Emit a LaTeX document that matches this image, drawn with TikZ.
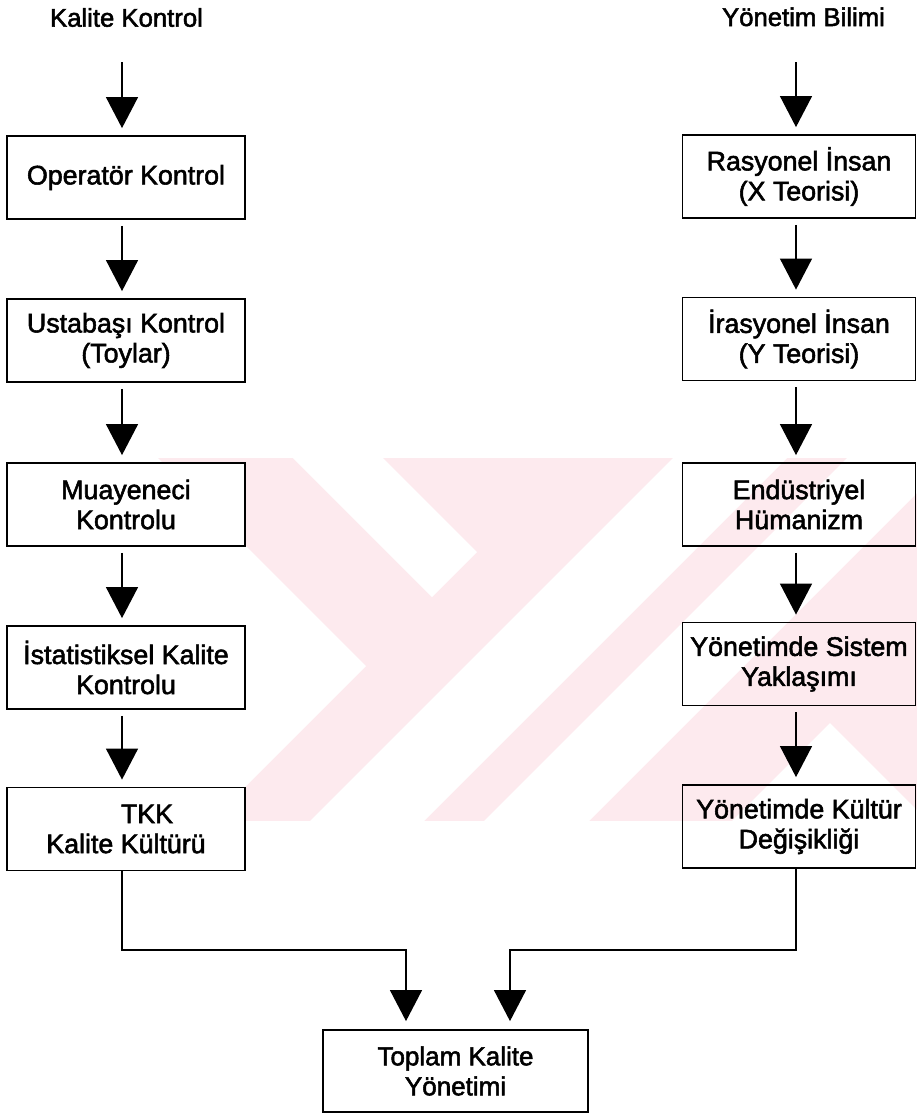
\documentclass[tikz,border=0pt]{standalone}
\usepackage{fontspec}
\setmainfont{Liberation Sans}[FakeBold=2.0]
\usetikzlibrary{arrows.meta}
\definecolor{wmpink}{RGB}{253,234,238}

\begin{document}
\begin{tikzpicture}[x=1pt,y=-1pt,
  box/.style={draw, line width=1.8pt, minimum width=238pt, minimum height=83pt,
    inner sep=0pt, align=center, font=\fontsize{26.8}{30}\selectfont},
  rbox/.style={box, minimum width=233pt},
  ttl/.style={inner sep=0pt, anchor=base, font=\fontsize{25.7}{30}\selectfont},
  flow/.style={line width=1.2pt, -{Triangle[width=32pt,length=31pt]}},
]
\useasboundingbox (0,0) rectangle (917,1114);

% faint background emblem
\begin{scope}
  \clip (0,458) rectangle (917,821);
  \fill[wmpink] (0,458) rectangle (917,821);
  \fill[white] (0,458) -- (158,458) -- (366,666) -- (211,821) -- (0,821) -- cycle;
  \fill[white] (293,458) -- (383,458) -- (477,552) -- (432,597) -- cycle;
  \fill[white] (310,821) -- (424,821) -- (787,458) -- (673,458) -- cycle;
  \fill[white] (484,821) -- (589,821) -- (952,458) -- (847,458) -- cycle;
  \fill[white] (830,723) -- (928,821) -- (732,821) -- cycle;
\end{scope}

% column anchors
\coordinate (lx) at (122,0);
\coordinate (rx) at (796,0);

% titles
\node[ttl] (kk) at (126.5,26.7) {Kalite Kontrol};
\node[ttl] (yb) at (803.5,26) {Yönetim Bilimi};
\coordinate (ls) at (122,62);
\coordinate (rs) at (796,62);

% left column
\node[box, fill=white] (op) at (126,177.5) {Operatör Kontrol};
\node[box, fill=white] (us) at (126,340.5) {Ustabaşı Kontrol\\(Toylar)};
\node[box, fill=white] (mu) at (126,504.5) {Muayeneci\\Kontrolu};
\node[box, fill=white] (ik) at (126,667.5) {İstatistiksel Kalite\\Kontrolu};
\node[box, fill=white] (tk) at (126,829) {\hspace*{42pt}TKK\\Kalite Kültürü};

% right column
\node[rbox] (ri) at (799,176.5) {Rasyonel İnsan\\(X Teorisi)};
\node[rbox] (ii) at (799,339) {İrasyonel İnsan\\(Y Teorisi)};
\node[rbox] (eh) at (799,504.5) {Endüstriyel\\Hümanizm};
\node[rbox] (ys) at (799,664) {Yönetimde Sistem\\Yaklaşımı};
\node[rbox] (yk) at (799,826.5) {Yönetimde Kültür\\Değişikliği};

% result
\node[box, minimum width=265pt, minimum height=82pt, fill=white,
  font=\fontsize{26}{30}\selectfont] (tkm) at (455.5,1071) {Toplam Kalite\\Yönetimi};

% left flow
\draw[flow, shorten >=7pt] (ls) -- (op.north -| lx);
\draw[flow, shorten <=6pt, shorten >=7pt] (op.south -| lx) -- (us.north -| lx);
\draw[flow, shorten <=6pt, shorten >=7pt] (us.south -| lx) -- (mu.north -| lx);
\draw[flow, shorten <=6pt, shorten >=7pt] (mu.south -| lx) -- (ik.north -| lx);
\draw[flow, shorten <=6pt, shorten >=7pt] (ik.south -| lx) -- (tk.north -| lx);

% right flow
\draw[flow, shorten >=7pt] (rs) -- (ri.north -| rx);
\draw[flow, shorten <=6pt, shorten >=7pt] (ri.south -| rx) -- (ii.north -| rx);
\draw[flow, shorten <=6pt, shorten >=7pt] (ii.south -| rx) -- (eh.north -| rx);
\draw[flow, shorten <=6pt, shorten >=7pt] (eh.south -| rx) -- (ys.north -| rx);
\draw[flow, shorten <=6pt, shorten >=7pt] (ys.south -| rx) -- (yk.north -| rx);

% merge into the result box
\coordinate (lj) at (406,950);
\coordinate (rj) at (510,950);
\draw[flow, shorten >=8pt] (tk.south -| lx) |- (lj) -- (tkm.north -| lj);
\draw[flow, shorten >=8pt] (yk.south -| rx) |- (rj) -- (tkm.north -| rj);
\end{tikzpicture}
\end{document}
